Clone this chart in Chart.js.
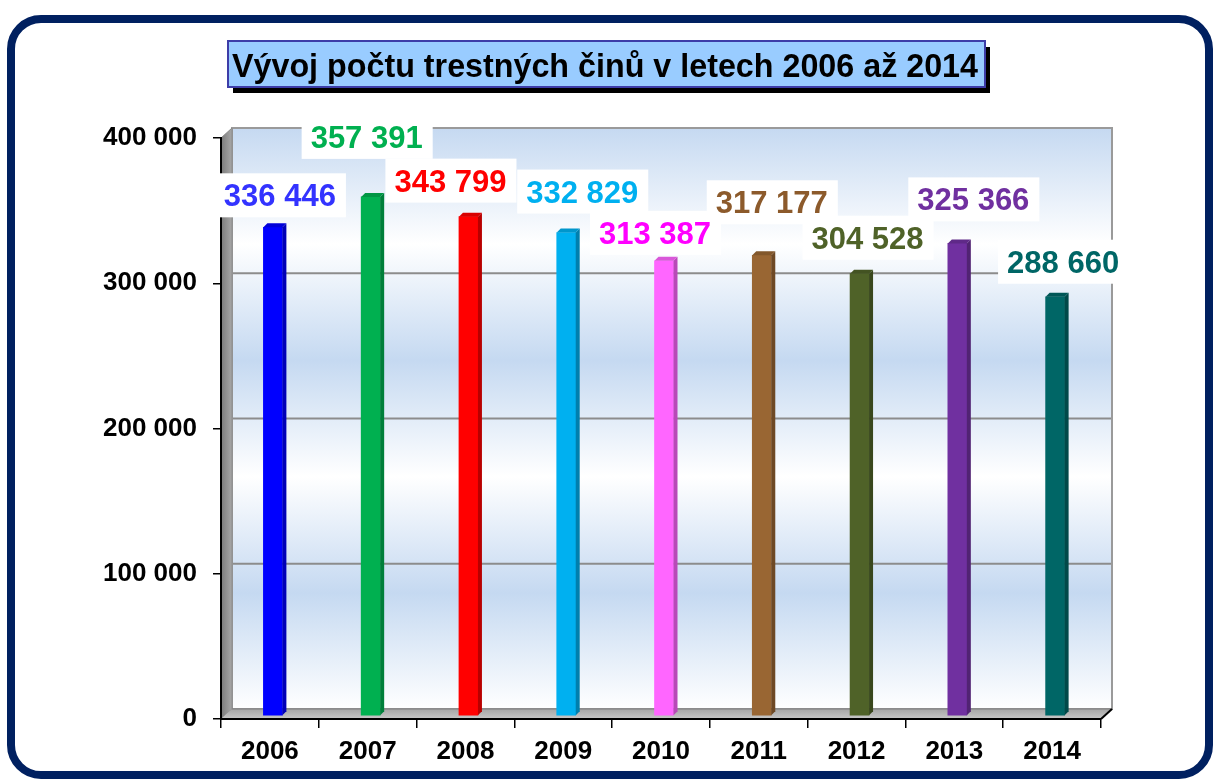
<!DOCTYPE html>
<html>
<head>
<meta charset="utf-8">
<script src="https://cdn.jsdelivr.net/npm/chart.js@4.4.1/dist/chart.umd.min.js"></script>
<style>
  html, body { margin: 0; padding: 0; background: #ffffff; }
  #wrap { width: 1213px; height: 779px; position: relative; }
</style>
</head>
<body>
<div id="wrap"><canvas id="c" width="1213" height="779"></canvas></div>
<script>
// ---- data ----
const chartTitle = 'Vývoj počtu trestných činů v letech 2006 až 2014';
const categories = ['2006', '2007', '2008', '2009', '2010', '2011', '2012', '2013', '2014'];
const crimeCounts = [336446, 357391, 343799, 332829, 313387, 317177, 304528, 325366, 288660];
const yTickValues = [0, 100000, 200000, 300000, 400000];

// ---- styles ----
const barColors = ['#0000ff', '#00b050', '#ff0000', '#00b0f0', '#ff66ff', '#996633', '#4f6228', '#7030a0', '#006666'];
const labelColors = ['#3333ff', '#00b050', '#ff0000', '#00b0f0', '#ff00ff', '#8c5a2b', '#4f6228', '#7030a0', '#006666'];
// label placement relative to the bar top (px)
const labelOffsets = [[7, -21], [-4, -49], [-18, -25], [16, -30], [-9, -17], [10, -42], [8, -25], [16, -33], [8, -24]];

const FONT = "'Liberation Sans', Arial, sans-serif";
const DEPTH_X = 11, DEPTH_Y = 10;
const BAR_SHIFT_X = 3, BAR_SHIFT_Y = -3, BAR_SIDE = 4;

function fmt(v) { return String(v).replace(/\B(?=(\d{3})+(?!\d))/g, ' '); }

function shade(hex, f) {
  const n = parseInt(hex.slice(1), 16);
  let r = (n >> 16) & 255, g = (n >> 8) & 255, b = n & 255;
  r = Math.round(r * f); g = Math.round(g * f); b = Math.round(b * f);
  return 'rgb(' + r + ',' + g + ',' + b + ')';
}

function roundRect(ctx, x, y, w, h, r) {
  ctx.beginPath();
  ctx.moveTo(x + r, y);
  ctx.lineTo(x + w - r, y);
  ctx.arcTo(x + w, y, x + w, y + r, r);
  ctx.lineTo(x + w, y + h - r);
  ctx.arcTo(x + w, y + h, x + w - r, y + h, r);
  ctx.lineTo(x + r, y + h);
  ctx.arcTo(x, y + h, x, y + h - r, r);
  ctx.lineTo(x, y + r);
  ctx.arcTo(x, y, x + r, y, r);
  ctx.closePath();
}

const decorPlugin = {
  id: 'decor',
  beforeDraw(chart) {
    const ctx = chart.ctx;
    const a = chart.chartArea;
    const ys = chart.scales.y;
    ctx.save();
    ctx.fillStyle = '#ffffff';
    ctx.fillRect(0, 0, chart.width, chart.height);

    // outer rounded frame
    ctx.lineWidth = 8;
    ctx.strokeStyle = '#002060';
    roundRect(ctx, 11, 19, 1198, 756, 30);
    ctx.stroke();

    // title box with shadow
    const tx = 228, ty = 41, tw = 757, th = 46;
    ctx.fillStyle = '#000000';
    ctx.fillRect(tx + 5, ty + 6, tw, th);
    ctx.fillStyle = '#99ccff';
    ctx.fillRect(tx, ty, tw, th);
    ctx.lineWidth = 2;
    ctx.strokeStyle = '#3d3da8';
    ctx.strokeRect(tx, ty, tw, th);
    ctx.font = 'bold 33px ' + FONT;
    ctx.fillStyle = '#000000';
    ctx.textBaseline = 'alphabetic';
    ctx.textAlign = 'left';
    const mw = ctx.measureText(chartTitle).width;
    const sx = 746 / mw;
    ctx.save();
    ctx.translate(232, 77);
    ctx.scale(sx, 1);
    ctx.fillText(chartTitle, 0, 0);
    ctx.restore();

    // 3D back wall
    const bl = a.left + DEPTH_X, br = a.right + DEPTH_X;
    const bt = a.top - DEPTH_Y, bb = a.bottom - DEPTH_Y;
    const g = ctx.createLinearGradient(0, bt, 0, bb);
    g.addColorStop(0, '#c5d9f1');
    g.addColorStop(0.2, '#ffffff');
    g.addColorStop(0.4, '#c5d9f1');
    g.addColorStop(0.6, '#ffffff');
    g.addColorStop(0.8, '#c5d9f1');
    g.addColorStop(1, '#ffffff');
    ctx.fillStyle = g;
    ctx.fillRect(bl, bt, br - bl, bb - bt);

    // gridlines on back wall
    ctx.strokeStyle = '#8c8c8c';
    ctx.lineWidth = 2;
    yTickValues.forEach(v => {
      if (v === 0 || v === ys.max) return;
      const yy = ys.getPixelForValue(v) - DEPTH_Y;
      ctx.beginPath();
      ctx.moveTo(bl, yy);
      ctx.lineTo(br, yy);
      ctx.stroke();
    });
    ctx.strokeStyle = '#9a9a9a';
    ctx.strokeRect(bl, bt, br - bl, bb - bt);

    // left wall
    const lg = ctx.createLinearGradient(a.left, 0, bl, 0);
    lg.addColorStop(0, '#7a7a7a');
    lg.addColorStop(1, '#a8a8a8');
    ctx.fillStyle = lg;
    ctx.beginPath();
    ctx.moveTo(a.left, a.top);
    ctx.lineTo(bl, bt);
    ctx.lineTo(bl, bb);
    ctx.lineTo(a.left, a.bottom);
    ctx.closePath();
    ctx.fill();
    ctx.strokeStyle = '#8a8a8a';
    ctx.lineWidth = 1;
    ctx.stroke();

    // floor
    const fg = ctx.createLinearGradient(0, bb, 0, a.bottom);
    fg.addColorStop(0, '#a6a6a6');
    fg.addColorStop(1, '#c8c8c8');
    ctx.fillStyle = fg;
    ctx.beginPath();
    ctx.moveTo(a.left, a.bottom);
    ctx.lineTo(bl, bb);
    ctx.lineTo(br, bb);
    ctx.lineTo(a.right, a.bottom);
    ctx.closePath();
    ctx.fill();
    ctx.strokeStyle = '#7f7f7f';
    ctx.lineWidth = 1;
    ctx.beginPath();
    ctx.moveTo(bl, bb);
    ctx.lineTo(br, bb);
    ctx.stroke();
    // right end diagonal of the axis
    ctx.strokeStyle = '#000000';
    ctx.lineWidth = 2;
    ctx.beginPath();
    ctx.moveTo(a.right, a.bottom);
    ctx.lineTo(br, bb);
    ctx.stroke();
    ctx.restore();
  },
  beforeDatasetsDraw(chart) {
    chart.ctx.save();
    chart.ctx.translate(BAR_SHIFT_X, BAR_SHIFT_Y);
  },
  afterDatasetsDraw(chart) {
    const ctx = chart.ctx;
    const meta = chart.getDatasetMeta(0);
    meta.data.forEach((bar, i) => {
      const L = bar.x - bar.width / 2, R = bar.x + bar.width / 2;
      const T = bar.y, B = bar.base;
      const col = barColors[i];
      // side face
      ctx.fillStyle = shade(col, 0.72);
      ctx.beginPath();
      ctx.moveTo(R, T);
      ctx.lineTo(R + BAR_SIDE, T - BAR_SIDE);
      ctx.lineTo(R + BAR_SIDE, B - BAR_SIDE);
      ctx.lineTo(R, B);
      ctx.closePath();
      ctx.fill();
      // top cap
      ctx.fillStyle = shade(col, 0.85);
      ctx.beginPath();
      ctx.moveTo(L, T);
      ctx.lineTo(L + BAR_SIDE, T - BAR_SIDE);
      ctx.lineTo(R + BAR_SIDE, T - BAR_SIDE);
      ctx.lineTo(R, T);
      ctx.closePath();
      ctx.fill();
    });
    ctx.restore();
  },
  afterDraw(chart) {
    const ctx = chart.ctx;
    const meta = chart.getDatasetMeta(0);
    ctx.save();
    ctx.font = 'bold 31px ' + FONT;
    ctx.textAlign = 'center';
    ctx.textBaseline = 'alphabetic';
    const items = meta.data.map((bar, i) => {
      const txt = fmt(crimeCounts[i]);
      const cx = bar.x + BAR_SHIFT_X + labelOffsets[i][0];
      const by = bar.y + BAR_SHIFT_Y + labelOffsets[i][1];
      const w = ctx.measureText(txt).width;
      return { txt, cx, by, w, color: labelColors[i] };
    });
    ctx.fillStyle = '#ffffff';
    items.forEach(it => {
      ctx.fillRect(it.cx - it.w / 2 - 9, it.by - 33, it.w + 19, 44);
    });
    items.forEach(it => {
      ctx.fillStyle = it.color;
      ctx.fillText(it.txt, it.cx, it.by);
    });
    ctx.restore();
  }
};

new Chart(document.getElementById('c'), {
  type: 'bar',
  data: {
    labels: categories,
    datasets: [{
      data: crimeCounts,
      backgroundColor: barColors,
      borderWidth: 0,
      barThickness: 19
    }]
  },
  options: {
    responsive: false,
    animation: false,
    events: [],
    layout: { padding: { top: 138, right: 112, left: 0, bottom: 0 } },
    plugins: { legend: { display: false }, tooltip: { enabled: false }, title: { display: false } },
    scales: {
      x: {
        grid: { display: true, drawOnChartArea: false, drawTicks: true, tickLength: 9, color: '#000000', lineWidth: 1.5, offset: true },
        border: { display: true, color: '#000000', width: 2 },
        ticks: { color: '#000000', font: { family: FONT, size: 26, weight: 'bold' }, padding: 8, maxRotation: 0 },
        afterFit(s) { s.height = 60; }
      },
      y: {
        min: 0,
        max: 400000,
        afterBuildTicks(s) { s.ticks = yTickValues.map(v => ({ value: v })); },
        ticks: { color: '#000000', font: { family: FONT, size: 26, weight: 'bold' }, padding: 16, callback: v => fmt(v) },
        grid: { display: true, drawOnChartArea: false, drawTicks: true, tickLength: 8, color: '#000000', lineWidth: 1.5 },
        border: { display: true, color: '#000000', width: 2 },
        afterFit(s) { s.width = 221; }
      }
    }
  },
  plugins: [decorPlugin]
});
</script>
</body>
</html>
